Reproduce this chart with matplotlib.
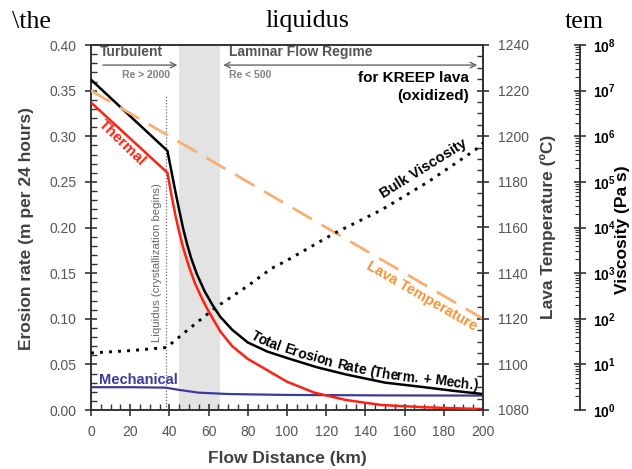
import numpy as np
import matplotlib
matplotlib.use("Agg")
import matplotlib.pyplot as plt
from matplotlib.ticker import MultipleLocator, FixedLocator, FormatStrFormatter, NullFormatter
from matplotlib.font_manager import FontProperties, findfont, get_font

plt.rcParams['font.family'] = ['Liberation Sans', 'DejaVu Sans']
plt.rcParams['mathtext.fontset'] = 'custom'
plt.rcParams['mathtext.bf'] = 'Liberation Sans:bold'
plt.rcParams['mathtext.rm'] = 'Liberation Sans'

# ---- data ----
# total erosion rate (thermal + mechanical), m per 24 h
dist_total = [0, 39, 41, 43, 45, 47, 49, 51, 54, 58, 62, 66, 72, 80, 90, 100,
              115, 130, 150, 170, 185, 200]
erosion_total = [0.362, 0.284, 0.262, 0.240, 0.219, 0.199, 0.182, 0.167, 0.149, 0.130,
                 0.115, 0.102, 0.088, 0.074, 0.064, 0.057, 0.047, 0.039, 0.030,
                 0.025, 0.021, 0.0175]

# thermal erosion
dist_thermal = [0, 39, 41, 43, 45, 47, 50, 53, 56, 59, 63, 66, 72, 80, 88, 100, 114, 130,
                148, 170, 200]
erosion_thermal = [0.337, 0.260, 0.236, 0.214, 0.195, 0.178, 0.157, 0.139, 0.125, 0.112,
                   0.097, 0.086, 0.070, 0.056, 0.046, 0.031, 0.019, 0.011, 0.0055, 0.003,
                   0.001]

# mechanical erosion
dist_mech = [0, 20, 38, 45, 55, 70, 100, 150, 200]
erosion_mech = [0.025, 0.025, 0.0245, 0.022, 0.019, 0.0175, 0.0165, 0.016, 0.0158]

# lava temperature (deg C)
dist_temp = [0, 100, 200]
lava_temp = [1220, 1170, 1120]

# bulk viscosity (Pa s)
dist_visc = [0, 20, 38.5, 50, 64, 80, 92, 100, 124, 148, 172, 196, 200]
bulk_visc = [17.8, 20, 23.4, 60, 182, 525, 1260, 1900, 7400, 24000, 1.0e5, 5.0e5, 7.1e5]

transition_zone = (45, 66)   # km, between turbulent and laminar
liquidus_km = 38.5

W, H = 632, 469
fig = plt.figure(figsize=(W / 100, H / 100), dpi=100)
ax = fig.add_axes([91 / W, 59 / H, 392 / W, 365 / H])
ax2 = ax.twinx()
ax3 = ax.twinx()

tick_grey = '#555555'
label_grey = '#404040'
spine_col = '#333333'

# ---- main axis: erosion rates ----
ax.axvspan(*transition_zone, color='#e3e3e3', lw=0, zorder=0)
ax.plot([liquidus_km, liquidus_km], [0, 0.345], color='#666666', lw=0.9,
        linestyle=(0, (1, 1.5)), zorder=1)
ax.plot(dist_mech, erosion_mech, color='#3b3b9b', lw=1.6, zorder=3)
ax.plot(dist_thermal, erosion_thermal, color='#ff2010', lw=1.8, zorder=3)
ax.plot(dist_total, erosion_total, color='black', lw=1.8, zorder=4)

ax.set_xlim(0, 200)
ax.set_ylim(0, 0.40)
ax.xaxis.set_major_locator(MultipleLocator(20))
ax.xaxis.set_minor_locator(MultipleLocator(5))
ax.yaxis.set_major_locator(MultipleLocator(0.05))
ax.yaxis.set_minor_locator(MultipleLocator(0.01))
ax.yaxis.set_major_formatter(FormatStrFormatter('%.2f'))
ax.tick_params(which='major', direction='inout', length=9, width=1.2, color=spine_col,
               labelcolor=tick_grey, labelsize=10, pad=6)
ax.tick_params(which='minor', direction='in', length=4, width=1, color=spine_col)
ax.tick_params(which='both', top=False, right=False)
for sp in ax.spines.values():
    sp.set_color(spine_col)
    sp.set_linewidth(1.4)

# ---- lava temperature axis ----
ax2.plot(dist_temp, lava_temp, color='#f7b070', lw=2, linestyle=(0, (8, 4)), zorder=2)
ax2.set_ylim(1080, 1240)
ax2.yaxis.set_major_locator(MultipleLocator(20))
ax2.yaxis.set_minor_locator(MultipleLocator(5))
ax2.tick_params(which='major', direction='inout', length=9, width=1.2, color=spine_col,
                labelcolor=tick_grey, labelsize=10, pad=6)
ax2.tick_params(which='minor', direction='in', length=4, width=1, color=spine_col)
for name, sp in ax2.spines.items():
    sp.set_visible(name == 'right')
    sp.set_color(spine_col)
    sp.set_linewidth(1.4)

# ---- viscosity axis ----
ax3.plot(dist_visc, bulk_visc, color='black', lw=2.1, linestyle=(0, (1, 2.1)), zorder=3)
ax3.set_yscale('log')
ax3.set_ylim(1, 1e8)
ax3.spines['right'].set_position(('axes', (580 - 91) / 392))
for name, sp in ax3.spines.items():
    sp.set_visible(name == 'right')
    sp.set_color(spine_col)
    sp.set_linewidth(1.4)
decades = [10.0 ** k for k in range(9)]
ax3.yaxis.set_major_locator(FixedLocator(decades))
ax3.set_yticklabels([r'$\mathbf{10^{%d}}$' % k for k in range(9)])
minors = [m * 10.0 ** k for k in range(8) for m in range(2, 10)]
ax3.yaxis.set_minor_locator(FixedLocator(minors))
ax3.yaxis.set_minor_formatter(NullFormatter())
ax3.tick_params(which='major', direction='inout', length=9, width=1.2, color=spine_col,
                labelcolor='black', labelsize=10, pad=5)
ax3.tick_params(which='minor', direction='in', length=3.5, width=0.8, color=spine_col)

# ---- axis labels ----
fig.text(26.7 / W, 1 - 229 / H, 'Erosion rate (m per 24 hours)', rotation=90,
         ha='center', va='center', fontsize=12.5, fontweight='bold', color=label_grey)
fig.text(547.5 / W, 1 - 227 / H, 'Lava Temperature (ºC)', rotation=90,
         ha='center', va='center', fontsize=12.5, fontweight='bold', color=label_grey)
fig.text(622 / W, 1 - 230 / H, 'Viscosity (Pa s)', rotation=90,
         ha='center', va='center', fontsize=12.5, fontweight='bold', color='black')
fig.text((91 + 392 / 2) / W, 1 - 458 / H, 'Flow Distance (km)', ha='center', va='center',
         fontsize=12.5, fontweight='bold', color=label_grey)

# ---- annotations ----
ax.text(4.6, 0.392, 'Turbulent', ha='left', va='center', fontsize=10, fontweight='bold',
        color=tick_grey)
ax.text(70.6, 0.392, 'Laminar Flow Regime', ha='left', va='center', fontsize=10,
        fontweight='bold', color=tick_grey)
ax.annotate('', xy=(45.5, 0.378), xytext=(4.6, 0.378),
            arrowprops=dict(arrowstyle='->', color='#666666', lw=1))
ax.annotate('', xy=(198.5, 0.378), xytext=(66, 0.378),
            arrowprops=dict(arrowstyle='<->', color='#666666', lw=1))
ax.text(40.4, 0.367, 'Re > 2000', ha='right', va='center', fontsize=7.5, fontweight='bold',
        color='#808080')
ax.text(70.6, 0.367, 'Re < 500', ha='left', va='center', fontsize=7.5, fontweight='bold',
        color='#808080')
ax.text(192.8, 0.364, 'for KREEP lava', ha='right', va='center', fontsize=11,
        fontweight='bold', color='black')
ax.text(192.8, 0.344, '(oxidized)', ha='right', va='center', fontsize=11,
        fontweight='bold', color='black')
ax.text(15.7, 0.293, 'Thermal', ha='center', va='center', rotation=-44,
        rotation_mode='anchor', fontsize=11, fontweight='bold', color='#ff2010')
ax.text(24.3, 0.033, 'Mechanical', ha='center', va='center', fontsize=10.5,
        fontweight='bold', color='#3b3b9b')
ax.text(33.5, 0.162, 'Liquidus (crystallization begins)', ha='center', va='center',
        rotation=90, fontsize=8.2, color='#666666')
ax.text(168.8, 0.125, 'Lava Temperature', ha='center', va='center', rotation=-30,
        rotation_mode='anchor', fontsize=10.5, fontweight='bold', color='#f39436')
ax.text(169.8, 0.2645, 'Bulk Viscosity', ha='center', va='center', rotation=32,
        rotation_mode='anchor', fontsize=10.5, fontweight='bold', color='black')


def text_on_curve(xs, ys, start_x, label, size, color, offset):
    # place characters one by one along the curve (display coords)
    fp = FontProperties(family='Liberation Sans', weight='bold', size=size)
    ft = get_font(findfont(fp))
    ft.set_size(size, fig.dpi)
    pts = ax.transData.transform(np.column_stack([xs, ys]))
    seg = np.hypot(*np.diff(pts, axis=0).T)
    arc = np.concatenate([[0], np.cumsum(seg)])
    s = np.arange(0, arc[-1], 1.0)
    px = np.interp(s, arc, pts[:, 0])
    py = np.interp(s, arc, pts[:, 1])
    k = np.ones(31) / 31
    px_s = np.convolve(np.pad(px, 15, mode='edge'), k, mode='valid')
    py_s = np.convolve(np.pad(py, 15, mode='edge'), k, mode='valid')
    x_start = ax.transData.transform((start_x, 0))[0]
    pos = s[np.argmin(np.abs(px - x_start))]
    n = len(s)
    for ch in label:
        adv = ft.load_char(ord(ch)).linearHoriAdvance / 65536
        i = int(np.clip(round(pos + adv / 2), 0, n - 1))
        dx = px_s[min(i + 5, n - 1)] - px_s[max(i - 5, 0)]
        dy = py_s[min(i + 5, n - 1)] - py_s[max(i - 5, 0)]
        ang = np.arctan2(dy, dx)
        x0 = px_s[i] - offset * np.sin(ang)
        y0 = py_s[i] + offset * np.cos(ang)
        fig.text(x0 / W, y0 / H, ch, rotation=np.degrees(ang), rotation_mode='anchor',
                 ha='center', va='baseline', fontproperties=fp, color=color)
        pos += adv


text_on_curve(dist_total, erosion_total, 79.5, 'Total Erosion Rate (Therm. + Mech.)',
              10, 'black', 4)

# stray header text at the top of the image
for x, t in [(31.7, '\\the'), (307.5, 'liquidus'), (584, 'tem')]:
    fig.text(x / W, 1 - 27.5 / H, t, ha='center', va='baseline', fontsize=18.7,
             family='Liberation Serif', color='black')

fig.savefig('out.png', dpi=100)
